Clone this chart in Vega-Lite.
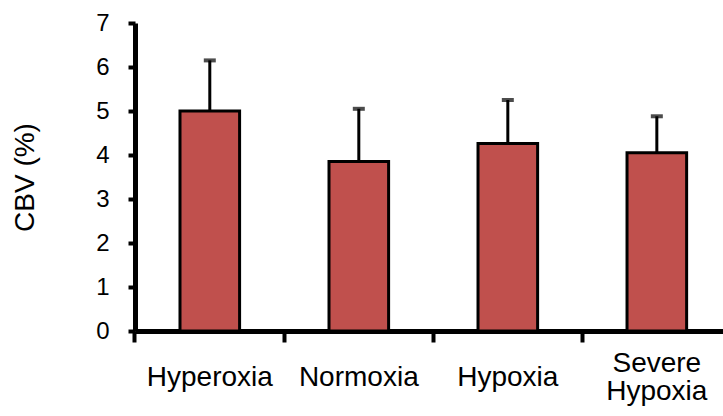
{
  "$schema": "https://vega.github.io/schema/vega-lite/v6.json",
  "width": 588,
  "height": 308,
  "autosize": {"type": "none"},
  "padding": {"left": 135, "top": 23, "right": 0, "bottom": 85},
  "background": "white",
  "config": {
    "view": {"stroke": null},
    "font": "Liberation Sans",
    "axis": {"grid": false}
  },
  "data": {"values": [
    {"group": "Hyperoxia", "cbv": 5.0, "upper": 6.15},
    {"group": "Normoxia", "cbv": 3.85, "upper": 5.05},
    {"group": "Hypoxia", "cbv": 4.26, "upper": 5.25},
    {"group": "Severe Hypoxia", "cbv": 4.05, "upper": 4.88}
  ]},
  "layer": [
    {
      "mark": {"type": "bar", "fill": "#C0504D", "stroke": "black", "strokeWidth": 3},
      "encoding": {
        "x": {"field": "group", "type": "nominal", "sort": null,
          "scale": {"paddingInner": 0.6, "paddingOuter": 0.273, "align": 0.553},
          "axis": {"orient": "bottom", "title": null, "labels": false, "domain": true, "domainColor": "black", "domainWidth": 5, "ticks": true, "tickColor": "black", "tickWidth": 4, "tickSize": 11, "bandPosition": -0.755}},
        "y": {"field": "cbv", "type": "quantitative", "scale": {"domain": [0, 7], "nice": false},
          "axis": {"title": "CBV (%)", "values": [0, 1, 2, 3, 4, 5, 6, 7], "titleFontSize": 28, "titleFont": "Liberation Sans", "titleFontWeight": "normal", "titleColor": "black", "titlePadding": 56, "labelFontSize": 24, "labelFont": "Liberation Sans", "labelColor": "black", "labelPadding": 19, "tickSize": 7, "tickWidth": 4, "tickColor": "black", "domainColor": "black", "domainWidth": 5, "grid": false}}
      }
    },
    {
      "mark": {"type": "rule", "color": "black", "strokeWidth": 3},
      "encoding": {
        "x": {"field": "group", "type": "nominal", "sort": null,
          "axis": {"orient": "bottom", "title": null, "domain": false, "ticks": false, "labelFontSize": 28, "labelFont": "Liberation Sans", "labelColor": "black", "labelPadding": {"condition": {"test": "indexof(datum.value, ' ') >= 0", "value": 32}, "value": 46}, "labelBaseline": "middle", "labelLineHeight": 28, "labelExpr": "split(datum.label, ' ')", "labelAngle": 0, "labelOverlap": false, "labelBound": false, "labelFlush": false}},
        "y": {"field": "cbv", "type": "quantitative"},
        "y2": {"field": "upper"}
      }
    },
    {
      "mark": {"type": "tick", "color": "black", "size": 12, "thickness": 4},
      "encoding": {
        "x": {"field": "group", "type": "nominal", "sort": null, "axis": null},
        "y": {"field": "upper", "type": "quantitative"}
      }
    }
  ],
  "resolve": {"axis": {"x": "independent"}}
}
